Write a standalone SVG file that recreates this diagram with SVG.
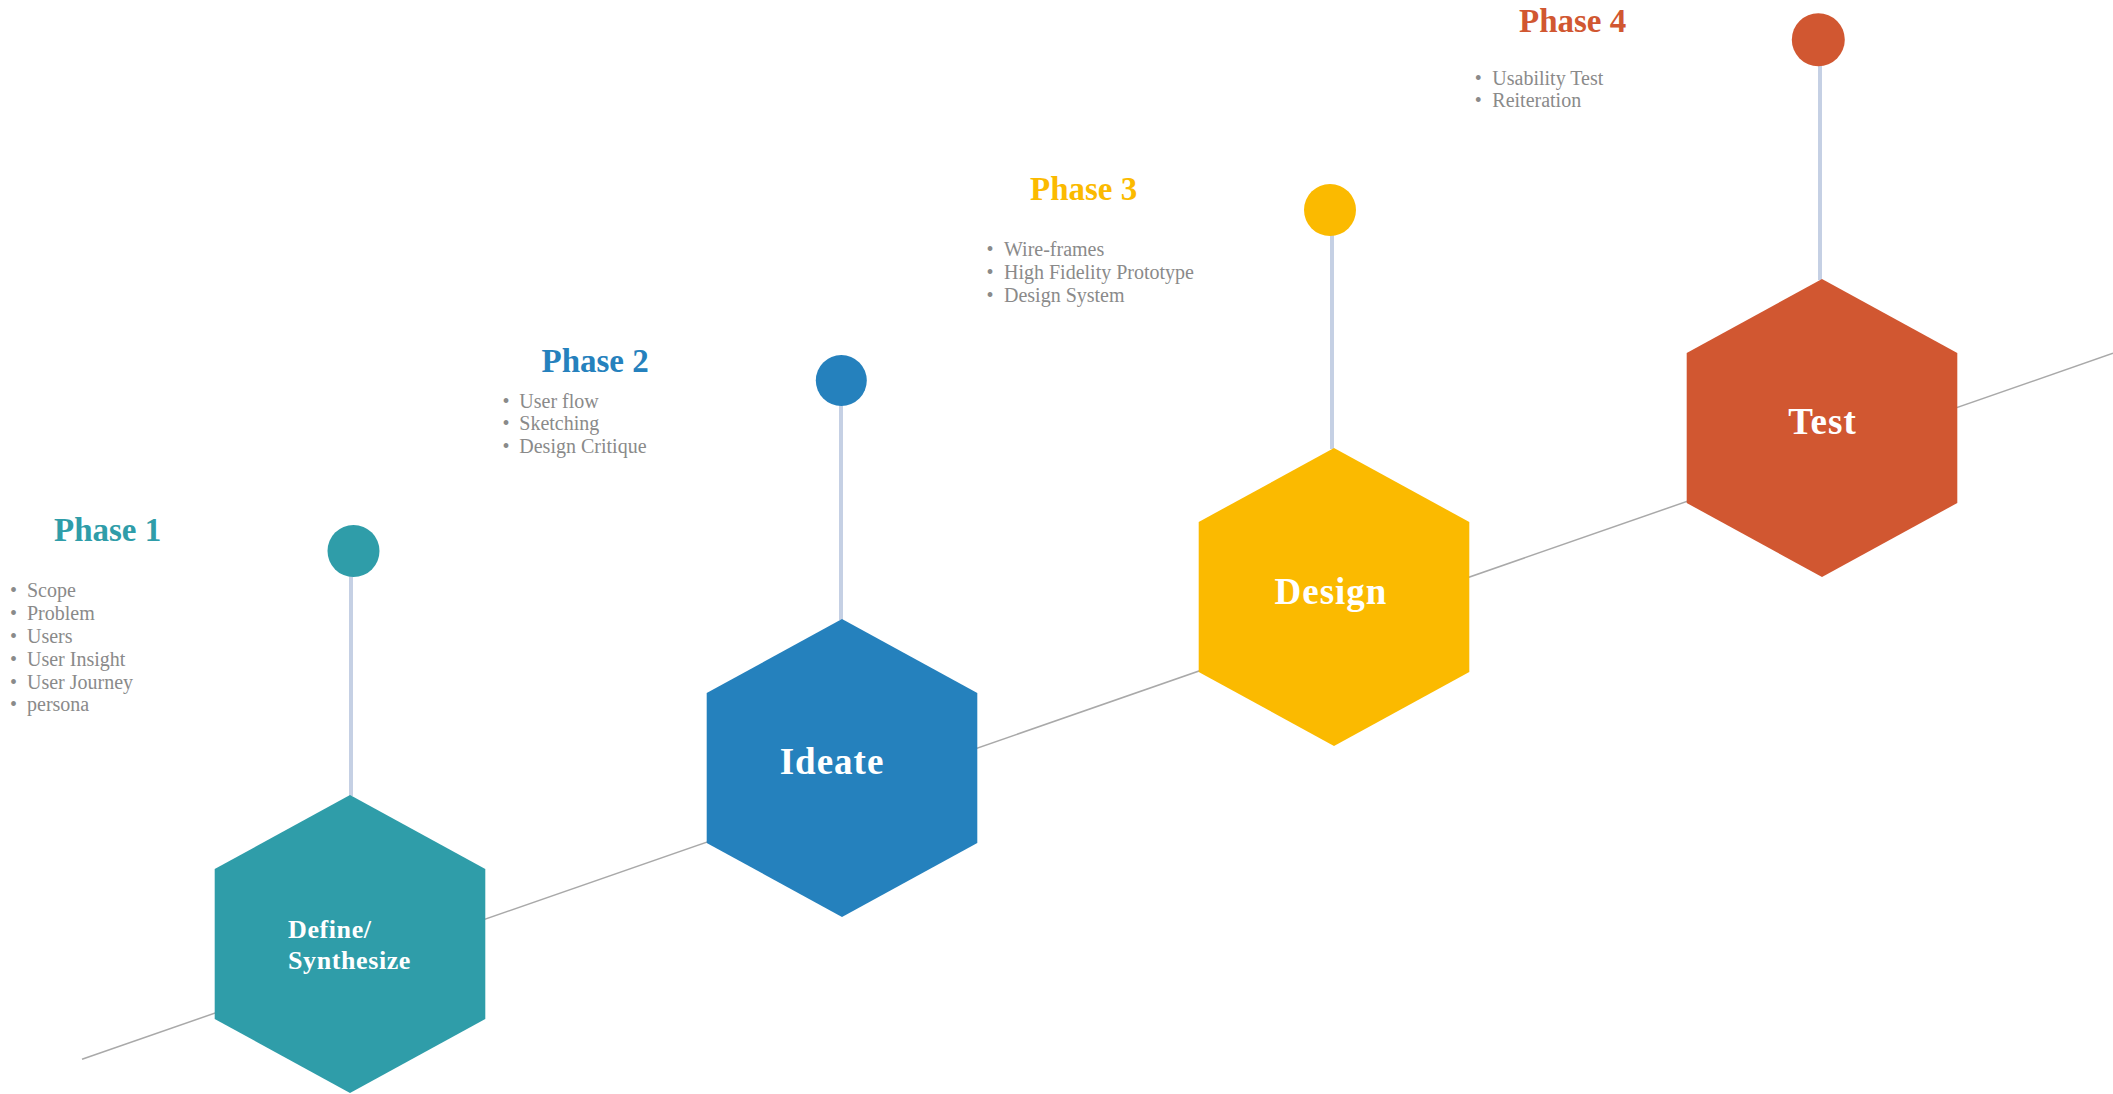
<svg xmlns="http://www.w3.org/2000/svg" width="2113" height="1094" viewBox="0 0 2113 1094">
<style>
.head{font-family:"Liberation Serif","DejaVu Serif",serif;font-weight:bold;font-size:33px}
.item{font-family:"Liberation Serif","DejaVu Serif",serif;font-size:20px;fill:#8a8a8a}
.dot{font-family:"Liberation Serif","DejaVu Serif",serif;font-size:20px;fill:#8a8a8a;text-anchor:middle}
.lbl{font-family:"Liberation Serif","DejaVu Serif",serif;font-weight:bold;font-size:37px;fill:#ffffff;text-anchor:middle;letter-spacing:1px}
.lbl2{font-family:"Liberation Serif","DejaVu Serif",serif;font-weight:bold;font-size:26px;fill:#ffffff;letter-spacing:0.6px}
.stem{stroke:#c5d0e4;stroke-width:4}
.track{stroke:#a9a9a9;stroke-width:1.5;fill:none}
</style>
<defs>
<polygon id="hex" points="0,-149 135.3,-75 135.3,75 0,149 -135.3,75 -135.3,-75"/>
</defs>
<rect width="2113" height="1094" fill="#ffffff"/>
<g id="connectors">
<line class="track" x1="82" y1="1059.3" x2="2113" y2="353.3"/>
<line class="stem" x1="351" y1="570" x2="351" y2="796"/>
<line class="stem" x1="841" y1="400" x2="841" y2="620"/>
<line class="stem" x1="1332" y1="230" x2="1332" y2="449"/>
<line class="stem" x1="1820" y1="60" x2="1820" y2="280"/>
</g>
<g id="phase1">
<circle cx="353.5" cy="551" r="26" fill="#2f9da9"/>
<use href="#hex" x="350" y="944" fill="#2f9da9"/>
<text class="lbl2" x="288" y="938">Define/</text>
<text class="lbl2" x="288" y="969">Synthesize</text>
<text class="head" x="54" y="541" fill="#2f9da9">Phase 1</text>
<text class="dot" x="13.5" y="597">•</text><text class="item" x="27" y="597">Scope</text>
<text class="dot" x="13.5" y="620">•</text><text class="item" x="27" y="620">Problem</text>
<text class="dot" x="13.5" y="642.5">•</text><text class="item" x="27" y="642.5">Users</text>
<text class="dot" x="13.5" y="665.5">•</text><text class="item" x="27" y="665.5">User Insight</text>
<text class="dot" x="13.5" y="688.5">•</text><text class="item" x="27" y="688.5">User Journey</text>
<text class="dot" x="13.5" y="711">•</text><text class="item" x="27" y="711">persona</text>
</g>
<g id="phase2">
<circle cx="841.3" cy="380.5" r="25.5" fill="#2581bd"/>
<use href="#hex" x="842" y="768" fill="#2581bd"/>
<text class="lbl" x="832" y="774">Ideate</text>
<text class="head" x="541.5" y="371.5" fill="#2581bd">Phase 2</text>
<text class="dot" x="506" y="407.5">•</text><text class="item" x="519.3" y="407.5">User flow</text>
<text class="dot" x="506" y="430">•</text><text class="item" x="519.3" y="430">Sketching</text>
<text class="dot" x="506" y="453.3">•</text><text class="item" x="519.3" y="453.3">Design Critique</text>
</g>
<g id="phase3">
<circle cx="1330" cy="210" r="26" fill="#fbba00"/>
<use href="#hex" x="1334" y="597" fill="#fbba00"/>
<text class="lbl" x="1331" y="603.5">Design</text>
<text class="head" x="1030" y="200" fill="#fbba00">Phase 3</text>
<text class="dot" x="990" y="256">•</text><text class="item" x="1004" y="256">Wire-frames</text>
<text class="dot" x="990" y="279">•</text><text class="item" x="1004" y="279">High Fidelity Prototype</text>
<text class="dot" x="990" y="301.7">•</text><text class="item" x="1004" y="301.7">Design System</text>
</g>
<g id="phase4">
<circle cx="1818.3" cy="39.7" r="26.5" fill="#d15731"/>
<use href="#hex" x="1822" y="428" fill="#d15731"/>
<text class="lbl" x="1822.5" y="434">Test</text>
<text class="head" x="1519" y="31.7" fill="#d15731">Phase 4</text>
<text class="dot" x="1478.3" y="85">•</text><text class="item" x="1492.3" y="85">Usability Test</text>
<text class="dot" x="1478.3" y="107.3">•</text><text class="item" x="1492.3" y="107.3">Reiteration</text>
</g>
</svg>
